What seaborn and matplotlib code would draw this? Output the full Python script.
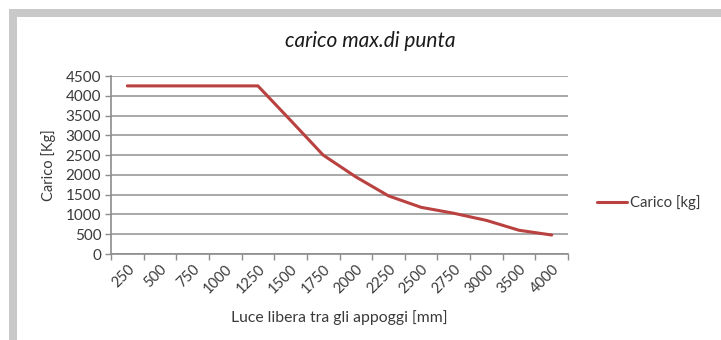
import matplotlib
matplotlib.use("Agg")
import matplotlib.pyplot as plt
from matplotlib.patches import Rectangle
from matplotlib.ticker import FixedLocator
import pandas as pd
import seaborn as sns

# data
LUCE = ["250", "500", "750", "1000", "1250", "1500", "1750",
        "2000", "2250", "2500", "2750", "3000", "3500", "4000"]
CARICO = [4250, 4250, 4250, 4250, 4250, 3380, 2500,
          1950, 1470, 1180, 1030, 850, 600, 480]
Y_TICKS = list(range(0, 4501, 500))

LINE_COLOR = "#b9413f"
GRID_COLOR = "#a8a8a8"
TEXT_COLOR = "#3a3a3a"

W, H = 721, 340


def main() -> None:
    sns.set_theme(style="white")
    plt.rcParams["font.family"] = ["Lato", "DejaVu Sans"]

    df = pd.DataFrame({"luce": LUCE, "carico": CARICO})

    fig = plt.figure(figsize=(W / 100, H / 100), dpi=100)
    fig.patch.set_facecolor("white")

    # Excel-like grey frame (top and left edges visible)
    fig.patches.append(Rectangle((9 / W, 0), 1, 1 - 9 / H, transform=fig.transFigure,
                                 facecolor="#c9c9c9", edgecolor="none", zorder=-10))
    fig.patches.append(Rectangle((17 / W, 0), 1, 1 - 17 / H, transform=fig.transFigure,
                                 facecolor="white", edgecolor="none", zorder=-9))

    ax = fig.add_axes([111 / W, 1 - 254 / H, (568 - 111) / W, (254 - 76) / H])
    ax.set_facecolor("none")

    sns.lineplot(data=df, x="luce", y="carico", color=LINE_COLOR, linewidth=2.2,
                 sort=False, label="Carico [kg]", ax=ax, zorder=3)

    ax.set_xlim(-0.5, len(LUCE) - 0.5)
    ax.set_ylim(0, 4500)
    ax.set_yticks(Y_TICKS)
    ax.yaxis.grid(True, color=GRID_COLOR, linewidth=1.4)
    ax.set_axisbelow(True)

    for side in ("top", "right"):
        ax.spines[side].set_visible(False)
    for side in ("left", "bottom"):
        ax.spines[side].set_color("#8c8c8c")
        ax.spines[side].set_linewidth(1.2)

    ax.set_xticks(range(len(LUCE)))
    ax.set_xticklabels(LUCE, rotation=45, ha="right", rotation_mode="anchor")
    ax.xaxis.set_minor_locator(FixedLocator([i - 0.5 for i in range(len(LUCE) + 1)]))
    ax.tick_params(axis="x", which="major", length=0, pad=6, labelsize=10.5,
                   labelcolor=TEXT_COLOR)
    ax.tick_params(axis="x", which="minor", bottom=True, length=4, width=1,
                   color="#8c8c8c", direction="out")
    ax.tick_params(axis="y", left=True, length=4, width=1, color="#8c8c8c",
                   pad=3, labelsize=11, labelcolor=TEXT_COLOR)

    ax.set_xlabel("Luce libera tra gli appoggi [mm]", fontsize=11.3,
                  color=TEXT_COLOR, labelpad=10)
    ax.set_ylabel("Carico [Kg]", fontsize=10.5, color=TEXT_COLOR, labelpad=7)

    fig.text(370 / W, 1 - 41 / H, "carico max.di punta", ha="center", va="center",
             fontsize=15, fontstyle="italic", color="#1a1a1a")

    ax.legend(loc="center left", bbox_to_anchor=(597 / W, 1 - 203 / H),
              bbox_transform=fig.transFigure, frameon=False, borderpad=0,
              borderaxespad=0, handlelength=2.0, handletextpad=0.25,
              fontsize=10.7, labelcolor=TEXT_COLOR)

    fig.savefig("out.png", dpi=100)
    plt.close(fig)


if __name__ == "__main__":
    main()
